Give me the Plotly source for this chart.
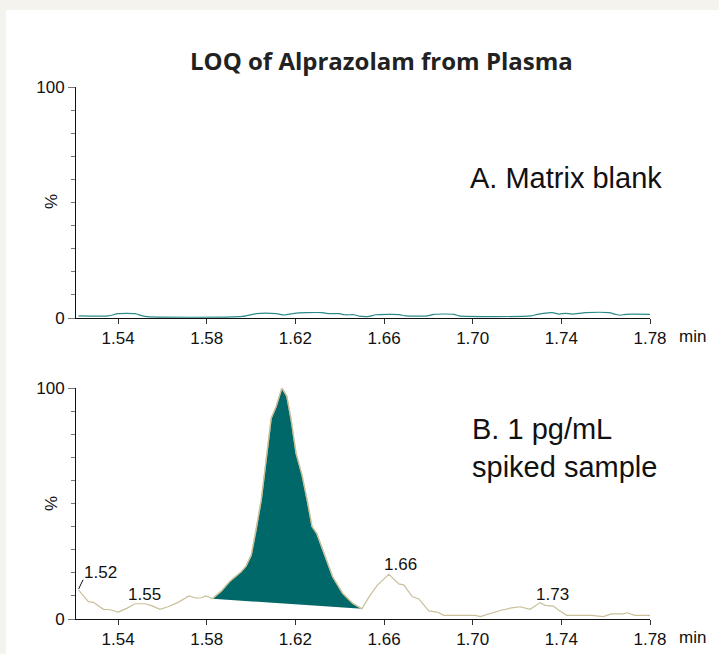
import plotly.graph_objects as go

# chromatogram A: matrix blank (time in min, % of max)
blank_t = [1.5221, 1.5356, 1.5400, 1.5476, 1.5521, 1.5963, 1.6023, 1.6113, 1.6151, 1.6188,
           1.6248, 1.6323, 1.6346, 1.6398, 1.6421, 1.6466, 1.6488, 1.6533, 1.6563, 1.6668,
           1.6698, 1.6795, 1.6825, 1.6916, 1.6938, 1.7262, 1.7292, 1.7359, 1.7389, 1.7419,
           1.7449, 1.7509, 1.7614, 1.7644, 1.7666, 1.7689, 1.7800]
blank_pct = [0.9, 0.9, 1.9, 1.9, 0.7, 0.7, 1.9, 1.9, 1.3, 1.9,
             2.3, 2.3, 1.9, 1.9, 1.4, 1.4, 0.8, 0.7, 1.4, 1.5,
             0.9, 0.9, 1.6, 1.6, 0.9, 0.9, 1.6, 2.3, 1.7, 2.0,
             1.7, 2.3, 2.3, 1.6, 1.2, 1.6, 1.6]

# chromatogram B: 1 pg/mL spiked sample
spiked_t = [1.5222, 1.5266, 1.5289, 1.5334, 1.5364, 1.5400, 1.5439, 1.5476, 1.5521, 1.5551,
            1.5589, 1.5626, 1.5671, 1.5720, 1.5754, 1.5776, 1.5796, 1.5826, 1.5866, 1.5903,
            1.5956, 1.5978, 1.6001, 1.6023, 1.6046, 1.6068, 1.6091, 1.6113, 1.6139, 1.6161,
            1.6181, 1.6203, 1.6230, 1.6253, 1.6275, 1.6296, 1.6323, 1.6368, 1.6413, 1.6458,
            1.6500, 1.6533, 1.6570, 1.6622, 1.6667, 1.6690, 1.6727, 1.6757, 1.6802, 1.6840,
            1.6870, 1.6937, 1.7012, 1.7034, 1.7087, 1.7132, 1.7176, 1.7214, 1.7259, 1.7304,
            1.7327, 1.7364, 1.7387, 1.7424, 1.7537, 1.7589, 1.7626, 1.7679, 1.7698, 1.7731,
            1.7800]
spiked_pct = [12.5, 7.5, 7.2, 4.2, 4.0, 3.0, 4.6, 6.6, 6.6, 5.8,
              4.2, 5.3, 7.2, 10.0, 9.0, 9.2, 10.0, 8.8, 12.1, 16.2,
              20.5, 23.0, 27.7, 38.5, 51.5, 68.8, 86.9, 91.9, 100.0, 96.5,
              86.1, 71.7, 62.3, 51.5, 40.0, 37.1, 29.9, 18.3, 11.1, 6.8,
              4.4, 9.7, 14.7, 19.3, 15.2, 14.7, 9.7, 8.7, 3.5, 3.0,
              1.6, 1.6, 1.6, 1.0, 2.5, 3.9, 4.8, 5.3, 4.2, 7.1,
              5.9, 5.6, 3.9, 1.6, 1.6, 1.0, 2.2, 2.2, 2.7, 1.6,
              1.6]

# integrated peak limits
peak_start, peak_end = 1.5826, 1.6500

# peak apex labels (text, time, %)
peak_labels = ["1.55", "1.61", "1.66", "1.73"]
peak_label_t = [1.5517, 1.6185, 1.6672, 1.7358]
peak_label_y = [10.4, 103.9, 23.4, 10.8]

tick_vals = [1.54, 1.58, 1.62, 1.66, 1.70, 1.74, 1.78]
tick_text = ["1.54", "1.58", "1.62", "1.66", "1.70", "1.74", "1.78"]

W, H = 719, 654
FONT = "Liberation Sans, Arial, sans-serif"


def px_x(p):
    return p / W


def px_y(p):
    return 1 - p / H


peak_t = [t for t in spiked_t if peak_start <= t <= peak_end]
peak_y = [y for t, y in zip(spiked_t, spiked_pct) if peak_start <= t <= peak_end]

fig = go.Figure()
fig.add_trace(go.Scatter(x=blank_t, y=blank_pct, mode="lines", xaxis="x", yaxis="y",
                         line=dict(color="#2c8a8a", width=1.2, shape="spline", smoothing=0.6),
                         hoverinfo="skip"))
fig.add_trace(go.Scatter(x=peak_t, y=peak_y, mode="lines", fill="toself", fillcolor="#006868",
                         xaxis="x2", yaxis="y2", line=dict(color="#c9c09a", width=1.2),
                         hoverinfo="skip"))
fig.add_trace(go.Scatter(x=spiked_t, y=spiked_pct, mode="lines", xaxis="x2", yaxis="y2",
                         line=dict(color="#c9c09a", width=1.2), hoverinfo="skip"))

xr = [1.5174, 1.78]
xdom = [px_x(68), px_x(650)]
xax = dict(range=xr, domain=xdom, tickvals=tick_vals, ticktext=tick_text, ticks="outside",
           ticklen=5, tickcolor="#333", showline=True, linecolor="#111", linewidth=1,
           showgrid=False, zeroline=False, automargin=False,
           tickfont=dict(size=17, color="#111", family=FONT))
yax = dict(range=[0, 100], tickvals=[0, 100], ticks="outside", ticklen=7, tickcolor="#777",
           showline=True, linecolor="#111", linewidth=1, showgrid=False, zeroline=False,
           anchor="free", position=px_x(75), automargin=False,
           tickfont=dict(size=17, color="#111", family=FONT),
           minor=dict(dtick=10, ticks="outside", ticklen=4, tickcolor="#777"))


def note(text, x, y, size, xanchor="center", **kw):
    return dict(text=text, x=x, y=y, xref=kw.pop("xref", "paper"), yref=kw.pop("yref", "paper"),
                xanchor=xanchor, yanchor="middle", showarrow=False,
                font=dict(size=size, family=kw.pop("family", FONT), color=kw.pop("color", "#111")),
                **kw)


annotations = []
for ymid in [202, 504]:
    annotations.append(note("%", px_x(51), px_y(ymid), 17, textangle=-90))
for yp in [336, 637]:
    annotations.append(note("min", px_x(677), px_y(yp), 17, xanchor="left"))
annotations.append(note("A. Matrix blank", px_x(468), px_y(178), 29, xanchor="left"))
annotations.append(note("B. 1 pg/mL<br>spiked sample", px_x(470), px_y(448), 29,
                        xanchor="left", align="left"))
annotations.append(note("<b>LOQ of Alprazolam from Plasma</b>", px_x(381), px_y(60), 24,
                        family="Open Sans, sans-serif", color="#222"))
for txt, t, y in zip(peak_labels, peak_label_t, peak_label_y):
    annotations.append(note(txt, t, y, 17, xref="x2", yref="y2"))
annotations.append(note("1.52", 1.5236, 20.3, 17, xanchor="left", xref="x2", yref="y2"))

shapes = [
    dict(type="rect", xref="paper", yref="paper", x0=px_x(6), x1=1, y0=0, y1=px_y(10),
         fillcolor="white", line=dict(width=0), layer="below"),
    dict(type="line", xref="x2", yref="y2", x0=spiked_t[0], y0=spiked_pct[0] + 0.5,
         x1=spiked_t[0] + 0.002, y1=spiked_pct[0] + 4.5, line=dict(color="#111", width=1)),
]

fig.update_layout(
    width=W, height=H, autosize=False,
    margin=dict(l=0, r=0, t=0, b=0, pad=0),
    paper_bgcolor="#f4f3ee", plot_bgcolor="rgba(0,0,0,0)",
    showlegend=False,
    xaxis=dict(xax, anchor="y"),
    yaxis=dict(yax, domain=[px_y(318), px_y(87)]),
    xaxis2=dict(xax, anchor="y2"),
    yaxis2=dict(yax, domain=[px_y(619), px_y(388)]),
    annotations=annotations,
    shapes=shapes,
    font=dict(family=FONT, color="#111"),
)

fig.write_html("out.html", config={"displayModeBar": False},
               post_script="document.body.style.margin='0';")
